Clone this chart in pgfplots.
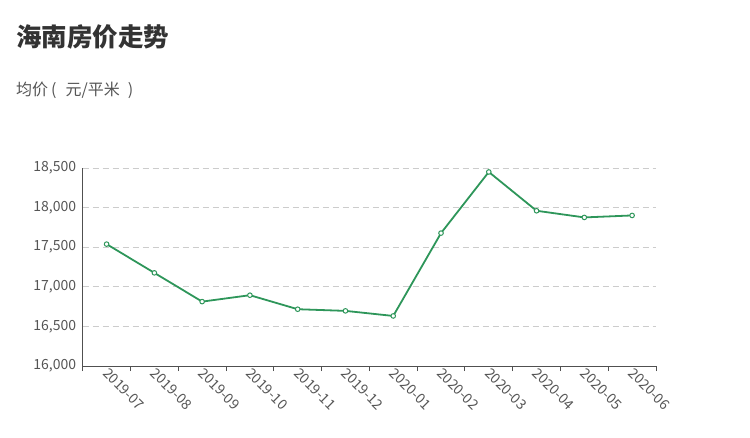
\documentclass[border=0pt]{standalone}
\usepackage{pgfplots}
\pgfplotsset{compat=1.18}
\usepackage{fontspec}
\setmainfont{Noto Sans CJK SC}
\definecolor{linegreen}{RGB}{46,150,90}
\definecolor{gridgray}{RGB}{204,204,204}
\definecolor{axisgray}{RGB}{80,80,80}
\definecolor{labelgray}{RGB}{85,85,85}
\definecolor{titlegray}{RGB}{51,51,51}
\begin{document}
\begin{tikzpicture}
\path[use as bounding box] (0,0) rectangle (750pt,437pt);
\node[anchor=west, inner sep=0pt, text=titlegray, font=\fontsize{25.5}{25.5}\bfseries\selectfont] at (16pt,400pt) {海南房价走势};
\node[anchor=west, inner sep=0pt, text=labelgray, font=\fontsize{16}{16}\selectfont] at (16pt,347pt) {均价\hspace{3pt}(\hspace{9pt}元/平米\hspace{8pt})};
\begin{axis}[
  scale only axis, width=573.3pt, height=198pt,
  at={(82.7pt,71pt)}, anchor=south west,
  xmin=-0.5, xmax=11.5, ymin=16000, ymax=18500,
  axis x line*=bottom, axis y line*=left,
  axis line style={-, draw=axisgray, line width=0.9pt},
  ytick={16000,16500,...,18500},
  scaled y ticks=false,
  yticklabel={\pgfmathprintnumber[fixed,precision=0,1000 sep={,},assume math mode=true]{\tick}},
  ymajorgrids,
  major grid style={gridgray, dash pattern=on 6pt off 4pt, line width=0.8pt},
  xtick={0,...,11},
  xticklabels={2019-07,2019-08,2019-09,2019-10,2019-11,2019-12,2020-01,2020-02,2020-03,2020-04,2020-05,2020-06},
  minor xtick={-0.5,0.5,...,11.5},
  major tick length=0pt, minor tick length=5pt, tick align=outside,
  tick style={draw=axisgray, line width=0.9pt},
  xticklabel style={rotate=-45, anchor=west, font=\fontsize{14}{14}\selectfont, text=labelgray, yshift=-4pt, xshift=-1pt},
  yticklabel style={font=\fontsize{14}{14}\selectfont, text=labelgray, xshift=-3pt},
  clip=false,
]
\addplot[linegreen, line width=1.8pt, mark=*, mark size=2.3pt, mark options={fill=white, draw=linegreen, line width=1pt}] coordinates {
(0,17539) (1,17176) (2,16813) (3,16894) (4,16717) (5,16696) (6,16632) (7,17678) (8,18450) (9,17960) (10,17876) (11,17901)
};
\end{axis}
\end{tikzpicture}
\end{document}
